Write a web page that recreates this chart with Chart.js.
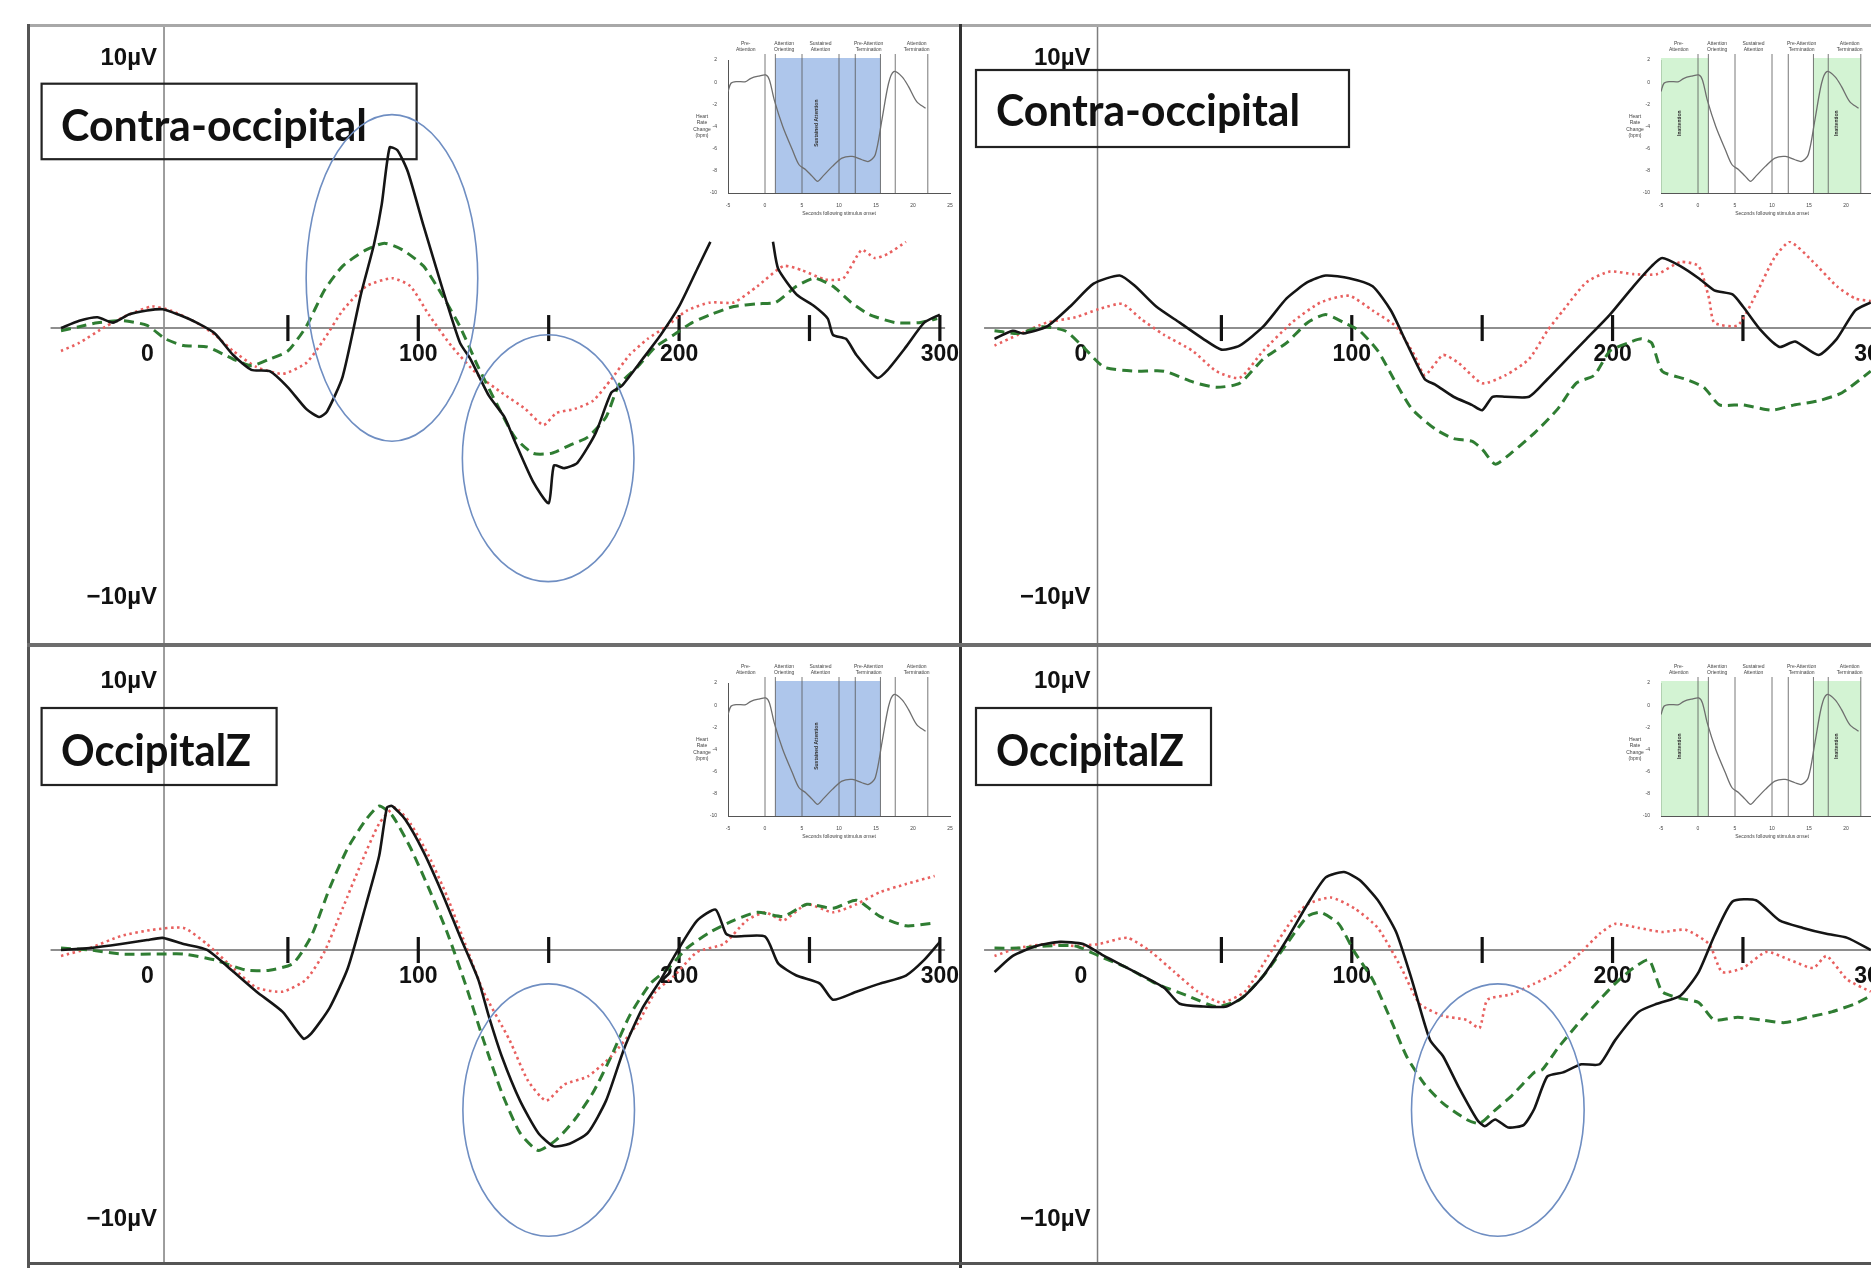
<!DOCTYPE html>
<html>
<head>
<meta charset="utf-8">
<script src="https://cdn.jsdelivr.net/npm/chart.js@4.4.1/dist/chart.umd.min.js"></script>
<style>
  html, body { margin: 0; padding: 0; background: #fff; }
  #page { position: relative; width: 1871px; height: 1268px; overflow: hidden; background: #fff; }
  #page canvas { position: absolute; }
  .rule { position: absolute; z-index: 5; }
</style>
</head>
<body>
<div id="page"></div>
<script>
// ---- ERP data: [ms, µV] ----
const contraLeftBlack = [[-37,0],[-30,0.27],[-23,0.4],[-17,0.2],[-11,0.5],[-4,0.65],[2,0.7],[8,0.5],[15,0.2],[22,-0.2],[29,-1.0],[36,-1.55],[43,-1.6],[50,-2.2],[57,-3.0],[62,-3.3],[65,-3.1],[71,-1.8],[78,1.25],[83,3.1],[86,4.6],[89,6.7],[92,6.6],[96,5.8],[102,3.8],[109,1.55],[116,-0.55],[120,-1.15],[127,-2.5],[133,-3.3],[137,-4.2],[144,-5.7],[150,-6.5],[152,-5.1],[156,-5.2],[161,-5.0],[168,-3.9],[174,-2.4],[178,-2.15],[186,-1.15],[193,-0.25],[200,0.8],[207,2.2],[212,3.2],[224,null],[236,3.2],[238,2.2],[245,1.25],[252,0.8],[257,0.35],[259,-0.25],[264,-0.4],[268,-1.0],[276,-1.85],[280,-1.55],[287,-0.7],[294,0.2],[300,0.5]];
const contraLeftGreen = [[-37,-0.1],[-30,0.05],[-23,0.2],[-13,0.27],[-4,0.1],[3,-0.4],[10,-0.65],[19,-0.7],[29,-1.15],[36,-1.4],[43,-1.15],[50,-0.85],[57,0.05],[64,1.4],[71,2.3],[80,2.9],[87,3.15],[94,2.9],[102,2.3],[109,1.25],[116,0.05],[123,-1.45],[130,-2.8],[137,-4.05],[144,-4.65],[151,-4.65],[158,-4.35],[165,-4.05],[172,-3.3],[177,-2.1],[184,-1.45],[191,-0.7],[198,-0.25],[205,0.2],[212,0.5],[221,0.8],[230,0.9],[237,0.95],[245,1.55],[252,1.85],[259,1.55],[266,0.95],[273,0.5],[283,0.2],[292,0.2],[299,0.35]];
const contraLeftRed = [[-37,-0.85],[-30,-0.55],[-20,0.05],[-11,0.5],[-2,0.8],[5,0.65],[15,0.2],[22,-0.25],[29,-0.85],[38,-1.45],[48,-1.7],[57,-1.3],[64,-0.4],[71,0.65],[80,1.55],[90,1.85],[97,1.55],[104,0.5],[113,-0.7],[123,-1.75],[132,-2.4],[141,-3.0],[148,-3.6],[153,-3.15],[160,-3.0],[167,-2.7],[174,-1.9],[181,-1.0],[188,-0.4],[195,0.05],[203,0.65],[212,0.95],[221,0.95],[230,1.55],[240,2.3],[247,2.15],[256,1.8],[263,1.85],[270,2.9],[275,2.6],[280,2.75],[287,3.2]];

const contraRightBlack = [[-37,-0.4],[-30,-0.1],[-26,-0.2],[-17,0.05],[-8,0.8],[1,1.65],[11,1.95],[17,1.55],[25,0.8],[34,0.2],[43,-0.4],[50,-0.8],[57,-0.65],[66,0.05],[75,1.1],[83,1.7],[90,1.95],[99,1.85],[108,1.55],[115,0.65],[121,-0.55],[128,-1.9],[132,-2.1],[139,-2.55],[146,-2.85],[150,-3.05],[154,-2.55],[159,-2.55],[168,-2.55],[175,-1.9],[181,-1.3],[190,-0.4],[199,0.5],[208,1.55],[215,2.3],[219,2.6],[226,2.3],[233,1.85],[239,1.4],[246,1.25],[250,0.8],[257,-0.1],[264,-0.7],[270,-0.5],[279,-1.0],[286,-0.4],[293,0.65],[299,0.95]];
const contraRightGreen = [[-37,-0.1],[-28,-0.2],[-19,0.05],[-10,-0.1],[-3,-0.7],[5,-1.45],[17,-1.6],[28,-1.6],[39,-2.0],[48,-2.2],[57,-2.05],[66,-1.15],[75,-0.55],[83,0.2],[90,0.5],[97,0.2],[103,-0.1],[110,-0.85],[117,-2.05],[123,-3.0],[132,-3.75],[139,-4.1],[146,-4.2],[150,-4.5],[155,-5.05],[161,-4.65],[170,-3.9],[179,-3.0],[186,-2.05],[193,-1.75],[199,-0.85],[206,-0.55],[211,-0.4],[215,-0.55],[219,-1.6],[228,-1.9],[235,-2.2],[241,-2.85],[250,-2.85],[261,-3.05],[270,-2.85],[279,-2.7],[288,-2.4],[299,-1.6]];
const contraRightRed = [[-37,-0.65],[-28,-0.25],[-17,0.2],[-6,0.4],[3,0.7],[12,0.9],[19,0.35],[28,-0.25],[39,-0.85],[48,-1.6],[57,-1.85],[66,-0.85],[77,0.2],[88,0.95],[99,1.2],[108,0.65],[117,0.05],[124,-1.0],[128,-1.75],[135,-1.0],[141,-1.3],[150,-2.05],[159,-1.75],[168,-1.15],[175,-0.1],[181,0.65],[190,1.7],[199,2.1],[208,2.0],[217,2.0],[226,2.45],[233,2.3],[237,1.1],[239,0.2],[248,0.1],[255,1.25],[262,2.6],[268,3.2],[277,2.45],[286,1.55],[293,1.1],[299,1.0]];

const occLeftBlack = [[-37,0],[-26,0.07],[-14,0.22],[-4,0.37],[2,0.45],[10,0.22],[19,0],[29,-0.8],[38,-1.55],[48,-2.3],[56,-3.3],[59,-3.1],[66,-2.15],[73,-0.67],[80,1.7],[85,3.5],[88,5.3],[90,5.35],[95,4.85],[102,3.65],[109,2.15],[116,0.5],[123,-1.1],[127,-2.45],[132,-3.95],[139,-5.6],[146,-6.8],[152,-7.3],[158,-7.2],[165,-6.8],[172,-5.6],[179,-3.65],[186,-2.15],[193,-1.1],[200,0.07],[207,1.1],[214,1.5],[218,0.6],[221,0.5],[233,0.5],[238,-0.5],[245,-0.95],[254,-1.25],[259,-1.85],[268,-1.55],[277,-1.25],[287,-0.95],[294,-0.37],[300,0.3]];
const occLeftGreen = [[-37,0.07],[-26,0],[-14,-0.15],[1,-0.15],[10,-0.15],[22,-0.37],[34,-0.75],[43,-0.75],[52,-0.5],[59,0.52],[66,2.3],[73,3.8],[80,4.85],[85,5.35],[90,5.0],[97,3.8],[104,2.3],[111,0.67],[118,-1.25],[125,-3.35],[132,-5.3],[139,-6.8],[146,-7.45],[153,-7.05],[160,-6.3],[167,-5.3],[174,-3.95],[181,-2.45],[189,-1.25],[196,-0.67],[203,0.07],[212,0.67],[221,1.1],[230,1.4],[240,1.25],[249,1.7],[259,1.55],[268,1.85],[277,1.25],[287,0.9],[298,1.0]];
const occLeftRed = [[-37,-0.22],[-26,0.07],[-14,0.52],[-2,0.75],[10,0.82],[19,0.22],[29,-0.67],[38,-1.4],[48,-1.55],[57,-1.1],[64,-0.07],[71,1.55],[78,3.2],[85,4.7],[91,5.3],[97,4.7],[104,3.5],[111,2.0],[118,0.22],[125,-1.55],[135,-3.35],[142,-4.85],[149,-5.6],[156,-5.0],[165,-4.7],[174,-3.95],[184,-2.75],[191,-1.55],[198,-0.97],[207,-0.07],[217,0.22],[226,1.1],[233,1.4],[240,1.1],[249,1.7],[259,1.4],[268,1.7],[277,2.15],[287,2.45],[298,2.75]];

const occRightBlack = [[-37,-0.82],[-30,-0.22],[-21,0.15],[-12,0.3],[-3,0.22],[5,-0.22],[17,-0.82],[28,-1.4],[34,-2.0],[43,-2.1],[52,-2.1],[59,-1.7],[66,-0.97],[75,0.37],[83,1.7],[90,2.7],[97,2.9],[103,2.6],[110,1.85],[117,0.67],[123,-1.1],[130,-3.35],[135,-3.95],[141,-5.1],[148,-6.3],[151,-6.55],[155,-6.3],[160,-6.6],[166,-6.5],[170,-5.9],[175,-4.7],[181,-4.55],[188,-4.25],[195,-4.25],[201,-3.35],[210,-2.3],[217,-2.0],[226,-1.7],[233,-0.82],[239,0.52],[246,1.8],[255,1.85],[264,1.1],[273,0.82],[282,0.6],[290,0.45],[299,0]];
const occRightGreen = [[-37,0.07],[-28,0.07],[-17,0.15],[-6,0.15],[3,-0.22],[14,-0.67],[25,-1.25],[37,-1.7],[48,-2.1],[57,-1.85],[66,-0.97],[75,0.22],[83,1.25],[88,1.4],[95,0.97],[101,-0.07],[108,-1.1],[115,-2.6],[121,-3.95],[128,-5.0],[135,-5.7],[144,-6.3],[149,-6.45],[155,-5.95],[161,-5.45],[170,-4.55],[173,-4.45],[179,-3.65],[188,-2.6],[195,-1.85],[201,-1.25],[208,-0.67],[214,-0.37],[219,-1.55],[226,-1.8],[233,-1.95],[239,-2.6],[248,-2.5],[257,-2.6],[266,-2.7],[275,-2.5],[284,-2.3],[293,-2.0],[299,-1.7]];
const occRightRed = [[-37,-0.22],[-28,0.07],[-17,0.22],[-6,0.15],[3,0.22],[14,0.45],[23,-0.07],[32,-0.82],[41,-1.55],[50,-1.95],[59,-1.55],[68,-0.22],[77,1.1],[83,1.7],[92,1.95],[101,1.55],[110,0.82],[119,-0.67],[126,-2.0],[135,-2.45],[144,-2.6],[149,-2.9],[152,-1.85],[161,-1.65],[170,-1.25],[179,-0.82],[188,-0.07],[195,0.6],[201,0.97],[210,0.82],[219,0.67],[228,0.75],[237,0.22],[242,-0.82],[250,-0.67],[259,-0.07],[268,-0.37],[277,-0.67],[282,-0.22],[290,-1.1],[299,-1.55]];

// axis marks of the ERP panels
const tickMs = [50, 100, 150, 200, 250, 300];
const tickLabels = [0, 100, 200, 300];

// ---- inset: heart rate change (bpm) vs seconds following stimulus onset ----
const insetSec = [-5,-4.6,-3.9,-2.6,-1.9,-0.8,0.1,0.6,1.25,2.4,3.7,4.6,5.5,6.4,7.1,7.8,9.1,10.4,11.8,13.1,14.0,14.9,15.8,16.7,17.4,18.5,19.4,20.5,21.7];
const insetHR = [-0.85,-0.1,0.05,0.05,0.35,0.55,0.65,0.2,-1.6,-4.0,-6.1,-7.45,-7.9,-8.5,-8.95,-8.5,-7.6,-6.85,-6.7,-7.0,-7.15,-6.55,-3.4,-0.1,0.95,0.5,-0.4,-1.75,-2.35];
const phaseBounds = [0, 1.4, 5, 10, 12.2, 15.6, 17.6, 22];
const phaseNames = [["Pre-", "Attention"], ["Attention", "Orienting"], ["Sustained", "Attention"], ["Pre-Attention", "Termination"], ["Attention", "Termination"]];
const phaseCentres = [-2.6, 2.6, 7.5, 14.0, 20.5];

const page = document.getElementById("page");

function addCanvas(left, top, w, h, z) {
  const c = document.createElement("canvas");
  c.width = w; c.height = h;
  c.style.left = left + "px"; c.style.top = top + "px";
  c.style.width = w + "px"; c.style.height = h + "px";
  c.style.zIndex = z;
  page.appendChild(c);
  return c;
}

function pts(arr) {
  return arr.map(p => ({ x: p[0], y: p[1] }));
}

// draws zero line, ticks, labels, label box, ellipses
const erpDecor = {
  id: "erpDecor",
  beforeDatasetsDraw(chart, args, o) {
    const { ctx } = chart;
    const x = chart.scales.x, y = chart.scales.y;
    const ax = x.getPixelForValue(2.5);
    const y0 = y.getPixelForValue(0);
    ctx.save();
    // vertical axis
    ctx.strokeStyle = "#7d7d7d"; ctx.lineWidth = 1.5;
    ctx.beginPath(); ctx.moveTo(ax, 0); ctx.lineTo(ax, chart.height); ctx.stroke();
    // zero line
    ctx.strokeStyle = "#8e8e8e"; ctx.lineWidth = 2;
    ctx.beginPath(); ctx.moveTo(x.getPixelForValue(-41), y0); ctx.lineTo(x.getPixelForValue(302), y0); ctx.stroke();
    // ticks
    ctx.strokeStyle = "#111"; ctx.lineWidth = 3.2;
    tickMs.forEach(t => {
      const px = x.getPixelForValue(t);
      ctx.beginPath(); ctx.moveTo(px, y0 - 13); ctx.lineTo(px, y0 + 13); ctx.stroke();
    });
    ctx.fillStyle = "#111";
    ctx.font = 'bold 23px "Liberation Sans"';
    ctx.textAlign = "center"; ctx.textBaseline = "middle";
    tickLabels.forEach(v => {
      ctx.fillText(String(v), x.getPixelForValue(v) + (v === 0 ? -10 : 0), y0 + 27);
    });
    ctx.font = 'bold 24px "Liberation Sans"';
    ctx.textAlign = "right";
    ctx.fillText("10\u00B5V", ax - 7, y.getPixelForValue(10));
    ctx.fillText("\u221210\u00B5V", ax - 7, y.getPixelForValue(-10));
    // title box
    const b = o.box;
    ctx.strokeStyle = "#222"; ctx.lineWidth = 2.2;
    ctx.strokeRect(b[0], b[1], b[2], b[3]);
    ctx.font = 'bold 44px Lato';
    ctx.textAlign = "left";
    ctx.fillText(o.label, o.text[0], o.text[1], o.text[2]);
    ctx.restore();
  },
  afterDatasetsDraw(chart, args, o) {
    const { ctx } = chart;
    const x = chart.scales.x, y = chart.scales.y;
    ctx.save();
    ctx.strokeStyle = "#6f8ec2"; ctx.lineWidth = 1.6;
    (o.ellipses || []).forEach(e => {
      const cx = x.getPixelForValue(e[0]), cy = y.getPixelForValue(e[1]);
      const rx = x.getPixelForValue(e[0] + e[2]) - cx;
      const ry = cy - y.getPixelForValue(e[1] + e[3]);
      ctx.beginPath(); ctx.ellipse(cx, cy, rx, ry, 0, 0, Math.PI * 2); ctx.stroke();
    });
    ctx.restore();
  }
};

function makePanel(p) {
  const c = addCanvas(p.left, p.top, p.w, p.h, 1);
  new Chart(c, {
    type: "line",
    data: {
      datasets: [
        { data: pts(p.series[0]), borderColor: "#151515", borderWidth: 2.6, order: 1 },
        { data: pts(p.series[1]), borderColor: "#2f7d32", borderWidth: 3, borderDash: [10, 6], order: 2 },
        { data: pts(p.series[2]), borderColor: "#e8605f", borderWidth: 2.6, borderDash: [2.5, 3.5], order: 3 },
      ],
    },
    options: {
      responsive: false,
      devicePixelRatio: 1,
      animation: false,
      spanGaps: false,
      elements: { point: { radius: 0 }, line: { tension: 0.2, fill: false } },
      layout: { padding: 0 },
      scales: {
        x: { type: "linear", min: p.xMin, max: p.xMax, display: false },
        y: { type: "linear", min: p.yMin, max: p.yMax, display: false },
      },
      plugins: {
        legend: { display: false },
        tooltip: { enabled: false },
        erpDecor: { box: p.box, text: p.text, label: p.label, ellipses: p.ellipses },
      },
    },
    plugins: [erpDecor],
  });
}

// inset decorations: phase bands, boundaries, labels, titles
const insetDecor = {
  id: "insetDecor",
  beforeDraw(chart) {
    chart.ctx.save();
    chart.ctx.fillStyle = "#fff";
    chart.ctx.fillRect(0, 0, chart.width, chart.height);
    chart.ctx.restore();
  },
  beforeDatasetsDraw(chart, args, o) {
    const { ctx, chartArea: a } = chart;
    const x = chart.scales.x, y = chart.scales.y;
    ctx.save();
    o.bands.forEach(bd => {
      ctx.fillStyle = o.bandColor;
      const l = x.getPixelForValue(bd[0]), r = x.getPixelForValue(bd[1]);
      ctx.fillRect(l, a.top - 2, r - l, a.bottom - a.top + 2);
    });
    ctx.strokeStyle = "#555"; ctx.lineWidth = 0.8;
    phaseBounds.forEach(v => {
      const px = x.getPixelForValue(v);
      ctx.beginPath(); ctx.moveTo(px, a.top - 6); ctx.lineTo(px, a.bottom); ctx.stroke();
    });
    ctx.fillStyle = "#444";
    ctx.font = "5px Arial";
    ctx.textAlign = "center"; ctx.textBaseline = "middle";
    phaseNames.forEach((n, i) => {
      const px = x.getPixelForValue(phaseCentres[i]);
      ctx.fillText(n[0], px, a.top - 16);
      ctx.fillText(n[1], px, a.top - 10);
    });
    ctx.fillText("Seconds following stimulus onset", (a.left + a.right) / 2, a.bottom + 21);
    ["Heart", "Rate", "Change", "(bpm)"].forEach((t, i) => {
      ctx.fillText(t, 12, (a.top + a.bottom) / 2 - 10 + i * 6.5);
    });
    ctx.fillStyle = "#333";
    ctx.font = "bold 5px Arial";
    o.vtexts.forEach(v => {
      ctx.save();
      ctx.translate(x.getPixelForValue(v[0]), y.getPixelForValue(-3.7));
      ctx.rotate(-Math.PI / 2);
      ctx.fillText(v[1], 0, 0);
      ctx.restore();
    });
    ctx.restore();
  }
};

function makeInset(left, top, h, bands, bandColor, vtexts) {
  const c = addCanvas(left, top, 267, h, 2);
  new Chart(c, {
    type: "line",
    data: {
      datasets: [{
        data: insetSec.map((s, i) => ({ x: s, y: insetHR[i] })),
        borderColor: "#6e6e6e", borderWidth: 1.3, pointRadius: 0, tension: 0.3,
      }],
    },
    options: {
      responsive: false,
      devicePixelRatio: 1,
      animation: false,
      layout: { padding: { top: 20, right: 7, bottom: 28, left: 0 } },
      scales: {
        x: {
          type: "linear", min: -5, max: 25,
          ticks: { stepSize: 5, font: { size: 5 }, color: "#444", padding: 2 },
          grid: { display: false },
          border: { display: true, color: "#555", width: 1 },
          afterFit: s => { s.height = 20; },
        },
        y: {
          type: "linear", min: -10, max: 2,
          ticks: { stepSize: 2, font: { size: 5 }, color: "#444", padding: 3 },
          grid: { display: false },
          border: { display: true, color: "#555", width: 1 },
          afterFit: s => { s.width = 38; },
        },
      },
      plugins: {
        legend: { display: false },
        tooltip: { enabled: false },
        insetDecor: { bands: bands, bandColor: bandColor, vtexts: vtexts },
      },
    },
    plugins: [insetDecor],
  });
}

makePanel({ left: 29, top: 26, w: 932, h: 620, xMin: -49.27, xMax: 308.1, yMin: -11.80, yMax: 11.21,
  series: [contraLeftBlack, contraLeftGreen, contraLeftRed], label: "Contra-occipital",
  box: [12.6, 57.7, 375, 75.5], text: [32, 101, 306],
  ellipses: [[89.9, 1.86, 32.9, 6.06], [149.8, -4.83, 32.9, 4.58]] });
makePanel({ left: 961, top: 26, w: 910, h: 620, xMin: -49.85, xMax: 299.1, yMin: -11.80, yMax: 11.21,
  series: [contraRightBlack, contraRightGreen, contraRightRed], label: "Contra-occipital",
  box: [15, 44, 373, 77], text: [35, 86, 304], ellipses: [] });
makePanel({ left: 29, top: 646, w: 932, h: 619, xMin: -49.27, xMax: 308.1, yMin: -11.71, yMax: 11.30,
  series: [occLeftBlack, occLeftGreen, occLeftRed], label: "OccipitalZ",
  box: [12.6, 62, 235, 77], text: [32, 106, 190],
  ellipses: [[150, -5.95, 32.9, 4.69]] });
makePanel({ left: 961, top: 646, w: 910, h: 619, xMin: -49.85, xMax: 299.1, yMin: -11.71, yMax: 11.30,
  series: [occRightBlack, occRightGreen, occRightRed], label: "OccipitalZ",
  box: [15, 62, 235, 77], text: [35, 106, 188],
  ellipses: [[156, -5.95, 33.1, 4.69]] });

const blueBand = "rgba(120,160,222,0.6)";
const greenBand = "rgba(200,240,200,0.8)";
makeInset(690, 40, 201, [[1.4, 15.6]], blueBand, [[7.0, "Sustained Attention"]]);
makeInset(1623, 40, 201, [[-5, 1.4], [15.6, 22]], greenBand, [[-2.5, "Inattention"], [18.8, "Inattention"]]);
makeInset(690, 663, 201, [[1.4, 15.6]], blueBand, [[7.0, "Sustained Attention"]]);
makeInset(1623, 663, 201, [[-5, 1.4], [15.6, 22]], greenBand, [[-2.5, "Inattention"], [18.8, "Inattention"]]);

// panel frame
[
  { l: 29, t: 24, w: 1842, h: 3, c: "#a8a8a8" },
  { l: 27, t: 24, w: 3, h: 1244, c: "#555" },
  { l: 959, t: 24, w: 3, h: 1244, c: "#333" },
  { l: 27, t: 643, w: 1844, h: 4, c: "#6d6d6d" },
  { l: 27, t: 1262, w: 1844, h: 3, c: "#555" },
].forEach(r => {
  const d = document.createElement("div");
  d.className = "rule";
  d.style.left = r.l + "px"; d.style.top = r.t + "px";
  d.style.width = r.w + "px"; d.style.height = r.h + "px";
  d.style.background = r.c;
  page.appendChild(d);
});
</script>
</body>
</html>
